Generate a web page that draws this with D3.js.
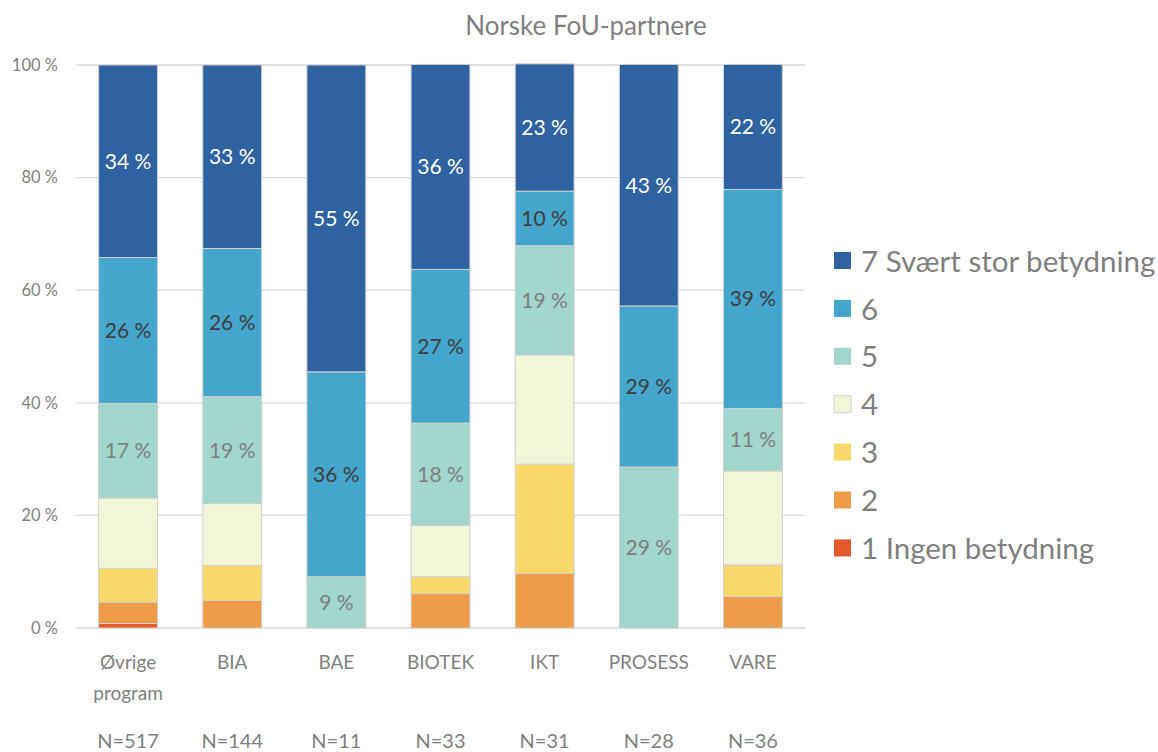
<!DOCTYPE html>
<html><head><meta charset="utf-8">
<script src="https://cdn.jsdelivr.net/npm/d3@7"></script>
<style>body{margin:0;background:#fff}svg{display:block}</style>
</head><body>
<svg id="c" width="1158" height="752"></svg>
<script>
const categories = ["Øvrige program","BIA","BAE","BIOTEK","IKT","PROSESS","VARE"];
const nLabels = ["N=517","N=144","N=11","N=33","N=31","N=28","N=36"];
const seriesNames = ["1 Ingen betydning","2","3","4","5","6","7 Svært stor betydning"];
// values in percent, per series, in category order
const s1 = [0.8, 0, 0, 0, 0, 0, 0];
const s2 = [3.8, 4.9, 0, 6.1, 9.7, 0, 5.6];
const s3 = [6.0, 6.2, 0, 3.0, 19.4, 0, 5.6];
const s4 = [12.5, 11.0, 0, 9.1, 19.4, 0, 16.7];
const s5 = [16.8, 19.0, 9.1, 18.2, 19.4, 28.6, 11.1];
const s6 = [25.9, 26.3, 36.4, 27.3, 9.7, 28.6, 38.9];
const s7 = [34.2, 32.6, 54.5, 36.4, 22.6, 42.9, 22.2];
const yTicks = [0,20,40,60,80,100];

const colors = ["#E35B2B","#EE9C48","#F8D96A","#F1F6D9","#A1D6CD","#44A6CC","#2E62A1"];
const labelColors = [null,null,null,null,"#7f7f7f","#404040","#ffffff"];
const allSeries = [s1,s2,s3,s4,s5,s6,s7];

const svg = d3.select("#c");
const font = "Lato, 'Open Sans', sans-serif";
const mLeft = 76, mRight = 805, mTop = 65, mBottom = 628;

const x = d3.scaleBand().domain(categories).range([mLeft, mRight]).paddingInner(0.435).paddingOuter(0.2175);
const y = d3.scaleLinear().domain([0,100]).range([mBottom, mTop]);

// gridlines
svg.append("g").selectAll("line").data(yTicks).join("line")
  .attr("x1", mLeft).attr("x2", mRight)
  .attr("y1", d => y(d)).attr("y2", d => y(d))
  .attr("stroke", "#d9d9d9").attr("stroke-width", 1.3);

// y axis
const yAxis = d3.axisLeft(y).tickValues(yTicks).tickFormat(d => d + " %").tickSize(0).tickPadding(18);
const ga = svg.append("g").attr("transform", `translate(${mLeft},0)`).call(yAxis);
ga.select(".domain").remove();
ga.selectAll("text").attr("font-family", font).attr("font-size", 16.5).attr("fill", "#7f7f7f");

// stacked data
const rows = categories.map((c,i) => {
  const o = {cat: c};
  seriesNames.forEach((s,k) => o[s] = allSeries[k][i]);
  return o;
});
const stack = d3.stack().keys(seriesNames)(rows);

const g = svg.append("g");
stack.forEach((layer, k) => {
  g.append("g").selectAll("rect").data(layer).join("rect")
    .attr("x", d => x(d.data.cat))
    .attr("width", x.bandwidth())
    .attr("y", d => y(d[1]))
    .attr("height", d => Math.max(0, y(d[0]) - y(d[1])))
    .attr("fill", colors[k])
    .attr("stroke", d => (d[1]-d[0]) > 0 ? "#cfcfcf" : "none")
    .attr("stroke-width", 1);
});
// labels
stack.forEach((layer, k) => {
  if (!labelColors[k]) return;
  g.append("g").selectAll("text").data(layer.filter(d => d[1]-d[0] > 0)).join("text")
    .attr("x", d => x(d.data.cat) + x.bandwidth()/2)
    .attr("y", d => (y(d[0]) + y(d[1]))/2)
    .attr("dy", "0.36em")
    .attr("text-anchor", "middle")
    .attr("font-family", font).attr("font-size", 21)
    .attr("fill", labelColors[k])
    .text(d => Math.round(d[1]-d[0]) + " %");
});

// x labels
const xl = svg.append("g");
categories.forEach((c,i) => {
  const cx = x(c) + x.bandwidth()/2;
  const words = c.split(" ");
  words.forEach((w,j) => {
    xl.append("text").attr("x", cx).attr("y", 669 + j*31)
      .attr("text-anchor","middle").attr("font-family", font).attr("font-size", 19)
      .attr("fill","#7f7f7f").text(w);
  });
  xl.append("text").attr("x", cx).attr("y", 748)
    .attr("text-anchor","middle").attr("font-family", font).attr("font-size", 20)
    .attr("fill","#7f7f7f").text(nLabels[i]);
});

// title
svg.append("text").attr("x", 586).attr("y", 35).attr("text-anchor","middle")
  .attr("font-family", font).attr("font-size", 26).attr("fill","#7f7f7f")
  .text("Norske FoU-partnere");

// legend (top = series 7)
const legOrder = seriesNames.map((s,k)=>k).reverse();
const lg = svg.append("g");
legOrder.forEach((k, j) => {
  const yy = 261 + j*47.9;
  lg.append("rect").attr("x", 834).attr("y", yy - 9).attr("width", 17).attr("height", 17)
    .attr("fill", colors[k]).attr("stroke", k===3 ? "#d0d0d0" : "none");
  lg.append("text").attr("x", 861).attr("y", yy).attr("dy","0.36em")
    .attr("font-family", font).attr("font-size", 29.5).attr("fill","#7f7f7f")
    .text(seriesNames[k]);
});
</script>
</body></html>
